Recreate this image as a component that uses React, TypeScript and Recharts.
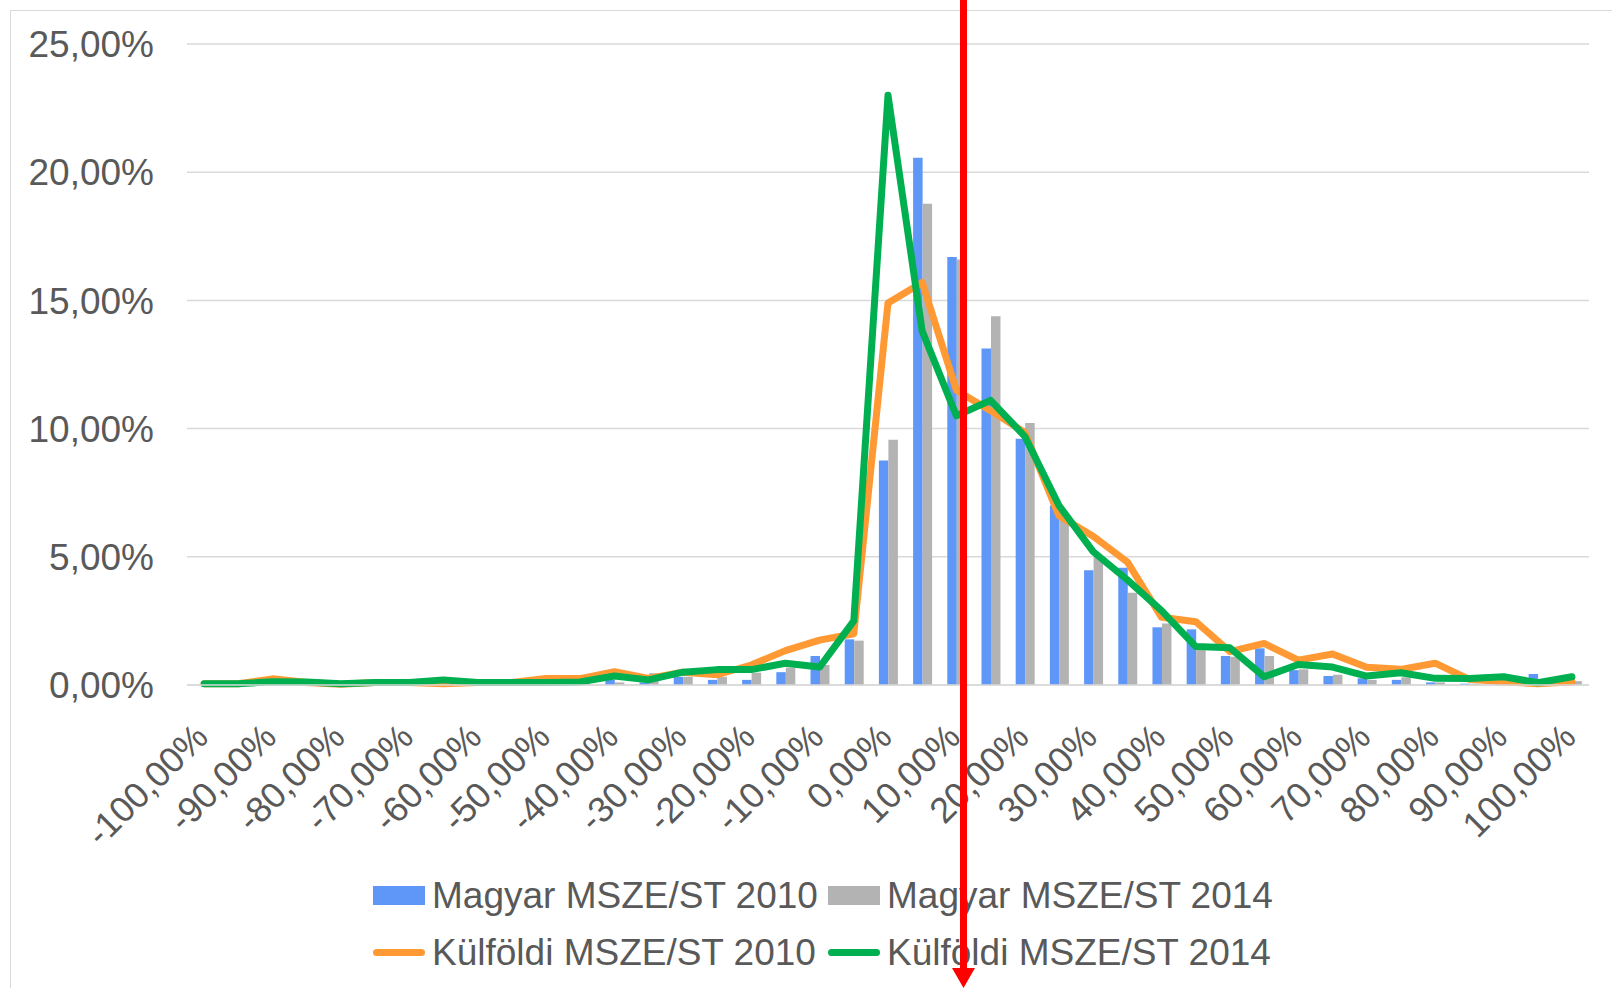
import React from 'react';
import { ComposedChart, Bar, Line, XAxis, YAxis, CartesianGrid, Legend } from 'recharts';

const FONT = '"Liberation Sans", Arial, sans-serif';

// x categories, every 5 percentage points
const categories = [
  -100, -95, -90, -85, -80, -75, -70, -65, -60, -55, -50, -45, -40, -35, -30, -25, -20, -15, -10, -5,
  0, 5, 10, 15, 20, 25, 30, 35, 40, 45, 50, 55, 60, 65, 70, 75, 80, 85, 90, 95, 100,
];

// bars (%)
const magyar2010 = [
  0, 0, 0, 0, 0, 0, 0, 0, 0, 0, 0.05, 0.05, 0.2, 0.1, 0.32, 0.2, 0.2, 0.5, 1.13, 1.78,
  8.76, 20.56, 16.69, 13.12, 9.6, 7.0, 4.48, 4.57, 2.25, 2.17, 1.13, 1.43, 0.58, 0.35, 0.26, 0.2, 0.1, 0.05, 0.05, 0.43, 0.05,
];
const magyar2014 = [
  0, 0, 0, 0, 0, 0, 0, 0, 0, 0, 0, 0.05, 0.1, 0.46, 0.32, 0.32, 0.48, 0.68, 0.78, 1.73,
  9.57, 18.77, 16.6, 14.38, 10.22, 6.5, 5.0, 3.6, 2.4, 1.36, 1.1, 1.13, 0.61, 0.4, 0.2, 0.3, 0.1, 0.05, 0.05, 0.05, 0.15,
];

// lines (%)
const kulfoldi2010 = [
  0.05, 0.05, 0.24, 0.1, 0.03, 0.1, 0.1, 0.05, 0.1, 0.1, 0.25, 0.25, 0.52, 0.26, 0.5, 0.4, 0.78, 1.34, 1.75, 2.0,
  14.9, 15.7, 11.5, 10.7, 9.85, 6.6, 5.8, 4.8, 2.64, 2.47, 1.3, 1.62, 0.97, 1.21, 0.69, 0.61, 0.85, 0.22, 0.13, 0.05, 0.13,
];
const kulfoldi2014 = [
  0.05, 0.05, 0.13, 0.12, 0.05, 0.1, 0.1, 0.2, 0.1, 0.1, 0.1, 0.12, 0.35, 0.2, 0.5, 0.6, 0.6, 0.85, 0.7, 2.5,
  23.0, 13.8, 10.5, 11.1, 9.7, 7.0, 5.2, 4.1, 2.9, 1.5, 1.45, 0.32, 0.8, 0.7, 0.35, 0.48, 0.26, 0.25, 0.32, 0.09, 0.32,
];

const yTicks = [0, 5, 10, 15, 20, 25];

const BLUE = '#5F97F8';
const GRAY = '#B3B3B3';
const ORANGE = '#FF9933';
const GREEN = '#00B050';
const TEXT = '#595959';
const GRID = '#D9D9D9';

const data = categories.map((c, i) => ({
  cat: c,
  m2010: magyar2010[i],
  m2014: magyar2014[i],
  k2010: kulfoldi2010[i],
  k2014: kulfoldi2014[i],
}));

const fmt = (v: number) => `${v.toFixed(2).replace('.', ',')}%`;

const XTick = (props: any) => {
  const { x, y, payload } = props;
  return (
    <g transform={`translate(${x + 6},${y + 54})`}>
      <text transform="rotate(-45)" textAnchor="end" fill={TEXT} fontSize={36} fontFamily={FONT}>
        {fmt(payload.value)}
      </text>
    </g>
  );
};

const LegendItem = ({ label, color, kind, width }: { label: string; color: string; kind: string; width?: number }) => (
  <div style={{ display: 'flex', alignItems: 'center', width }}>
    {kind === 'rect' ? (
      <div style={{ width: 52, height: 19, background: color, marginRight: 7 }} />
    ) : (
      <div style={{ width: 52, height: 7, borderRadius: 4, background: color, marginRight: 7 }} />
    )}
    <span>{label}</span>
  </div>
);

const renderLegend = () => (
  <div style={{ fontFamily: FONT, fontSize: 37, color: TEXT, lineHeight: '57px', whiteSpace: 'nowrap' }}>
    <div style={{ display: 'flex' }}>
      <LegendItem label="Magyar MSZE/ST 2010" color={BLUE} kind="rect" width={455} />
      <LegendItem label="Magyar MSZE/ST 2014" color={GRAY} kind="rect" />
    </div>
    <div style={{ display: 'flex' }}>
      <LegendItem label="Külföldi MSZE/ST 2010" color={ORANGE} kind="line" width={455} />
      <LegendItem label="Külföldi MSZE/ST 2014" color={GREEN} kind="line" />
    </div>
  </div>
);

export default function App() {
  return (
    <div style={{ position: 'absolute', left: 0, top: 0, width: 1612, height: 988, overflow: 'hidden', background: '#fff' }}>
      {/* chart area frame, runs off the right and bottom edge */}
      <div
        style={{
          position: 'absolute',
          left: 10,
          top: 10,
          width: 2000,
          height: 2000,
          border: `1.5px solid ${GRID}`,
        }}
      />
      <ComposedChart
        width={1612}
        height={988}
        data={data}
        margin={{ top: 44, right: 23, left: 0, bottom: 153 }}
        barGap={0}
        barSize={9.5}
      >
        <CartesianGrid vertical={false} stroke={GRID} strokeWidth={1.5} />
        <XAxis
          dataKey="cat"
          interval={1}
          height={150}
          tick={<XTick />}
          tickLine={false}
          tickSize={0}
          tickMargin={0}
          axisLine={{ stroke: GRID, strokeWidth: 1.5 }}
        />
        <YAxis
          domain={[0, 25]}
          ticks={yTicks}
          width={187}
          tickFormatter={fmt}
          tick={{ fill: TEXT, fontSize: 37, fontFamily: FONT }}
          tickLine={false}
          axisLine={false}
          tickSize={6}
          tickMargin={27}
        />
        <Legend
          content={renderLegend}
          layout="horizontal"
          verticalAlign="middle"
          align="center"
          wrapperStyle={{ left: 373, top: 867, width: 1000 }}
        />
        <Bar dataKey="m2010" name="Magyar MSZE/ST 2010" fill={BLUE} isAnimationActive={false} />
        <Bar dataKey="m2014" name="Magyar MSZE/ST 2014" fill={GRAY} isAnimationActive={false} />
        <Line
          type="linear"
          dataKey="k2010"
          name="Külföldi MSZE/ST 2010"
          stroke={ORANGE}
          strokeWidth={7}
          strokeLinejoin="round"
          strokeLinecap="round"
          dot={false}
          activeDot={false}
          isAnimationActive={false}
        />
        <Line
          type="linear"
          dataKey="k2014"
          name="Külföldi MSZE/ST 2014"
          stroke={GREEN}
          strokeWidth={7}
          strokeLinejoin="round"
          strokeLinecap="round"
          dot={false}
          activeDot={false}
          isAnimationActive={false}
        />
      </ComposedChart>
      {/* red marker arrow drawn over the chart */}
      <svg
        width={1612}
        height={988}
        style={{ position: 'absolute', left: 0, top: 0, pointerEvents: 'none' }}
      >
        <line x1={963.5} y1={0} x2={963.5} y2={972} stroke="#FF0000" strokeWidth={7} />
        <polygon points="952,968 975,968 963.5,988" fill="#FF0000" />
      </svg>
    </div>
  );
}
